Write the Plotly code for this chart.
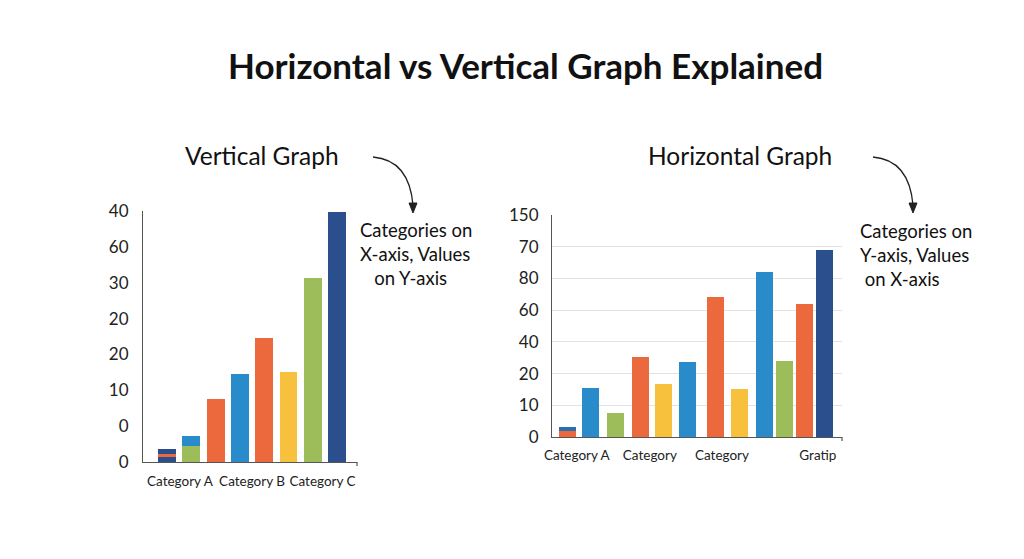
import plotly.graph_objects as go

# page is 1024x559; browser body keeps its default 8px margin
PAGE_W, PAGE_H = 1024, 559
PAD = 8
FW, FH = PAGE_W - 2 * PAD, PAGE_H - 2 * PAD

NAVY = "#2b4f8c"
BLUE = "#2a8bcb"
ORANGE = "#ec693d"
YELLOW = "#f7c13d"
GREEN = "#9dbd5b"

# --- Vertical graph (left) ---
v_pos = [0, 1, 2, 3, 4, 5, 6, 7]
v_base = [1.4, 4.5, 17.6, 24.5, 34.6, 25.1, 51.3, 69.7]
v_base_colors = [NAVY, GREEN, ORANGE, BLUE, ORANGE, YELLOW, GREEN, NAVY]
v_mid = [0.8, 2.8]
v_mid_colors = [ORANGE, BLUE]
v_top = [1.4]
v_top_colors = [NAVY]
v_ticktext = ["0", "0", "10", "20", "20", "30", "60", "40"]
v_cat_pos = [0.53, 3.5, 6.4]
v_cat_labels = ["Category A", "Category B", "Category C"]

# --- Horizontal graph (right) ---
h_pos = [0, 0.95, 2.05, 3.1, 4.1, 5.1, 6.3, 7.35, 8.4, 9.25, 10.1, 10.95]
h_base = [1.9, 15.5, 7.6, 25.2, 16.7, 23.7, 44.2, 15.1, 52.1, 24.0, 42.0, 59.0]
h_base_colors = [ORANGE, BLUE, GREEN, ORANGE, YELLOW, BLUE, ORANGE, YELLOW,
                 BLUE, GREEN, ORANGE, NAVY]
h_top = [1.3]
h_top_colors = ["#2a70aa"]
h_ticktext = ["0", "10", "20", "40", "60", "80", "70", "150"]
h_cat_pos = [0.38, 3.5, 6.58, 10.68]
h_cat_labels = ["Category A", "Category", "Category", "Gratip"]

tick_vals = [0, 10, 20, 30, 40, 50, 60, 70]


def dx(x):
    return (x - PAD) / FW


def dy(y):
    return 1 - (y - PAD) / FH


fig = go.Figure()

fig.add_trace(go.Bar(x=v_pos, y=v_base, marker_color=v_base_colors, width=0.74,
                     xaxis="x", yaxis="y"))
fig.add_trace(go.Bar(x=v_pos[:2], y=v_mid, marker_color=v_mid_colors, width=0.74,
                     xaxis="x", yaxis="y"))
fig.add_trace(go.Bar(x=v_pos[:1], y=v_top, marker_color=v_top_colors, width=0.74,
                     xaxis="x", yaxis="y"))

fig.add_trace(go.Bar(x=h_pos, y=h_base, marker_color=h_base_colors, width=0.73,
                     xaxis="x2", yaxis="y2"))
fig.add_trace(go.Bar(x=h_pos[:1], y=h_top, marker_color=h_top_colors, width=0.73,
                     xaxis="x2", yaxis="y2"))

fig.update_traces(marker_line_width=0, showlegend=False, hoverinfo="skip")

axis_font = dict(family="Lato", size=17, color="#222")
cat_font = dict(family="Lato", size=13.5, color="#222")

fig.update_layout(
    width=FW, height=FH,
    margin=dict(l=0, r=0, t=0, b=0),
    paper_bgcolor="white", plot_bgcolor="white",
    barmode="stack", bargap=0,
    font=dict(family="Lato", color="#222"),
    xaxis=dict(domain=[dx(143), dx(357)], range=[-0.99, 7.82],
               tickvals=v_cat_pos, ticktext=v_cat_labels, tickfont=cat_font,
               tickangle=0, automargin=False,
               showline=True, linecolor="#555", linewidth=1.2,
               showgrid=False, zeroline=False, ticks="", ticklabelstandoff=7),
    yaxis=dict(domain=[dy(462), dy(211)], range=[0, 70], automargin=False,
               tickvals=tick_vals, ticktext=v_ticktext, tickfont=axis_font,
               showline=True, linecolor="#555", linewidth=1.2,
               showgrid=False, zeroline=False, ticks="", ticklabelstandoff=10),
    xaxis2=dict(domain=[dx(552), dx(842)], range=[-0.68, 11.71], anchor="y2",
                tickvals=h_cat_pos, ticktext=h_cat_labels, tickfont=cat_font,
                tickangle=0, automargin=False,
                showline=True, linecolor="#555", linewidth=1.2,
                showgrid=False, zeroline=False, ticks="", ticklabelstandoff=6),
    yaxis2=dict(domain=[dy(437), dy(215)], range=[0, 70], anchor="x2",
                automargin=False,
                tickvals=tick_vals, ticktext=h_ticktext, tickfont=axis_font,
                showline=True, linecolor="#555", linewidth=1.2,
                showgrid=True, gridcolor="#e3e3e3", gridwidth=1,
                zeroline=False, ticks="", ticklabelstandoff=9),
)

# titles
fig.add_annotation(x=dx(525), y=dy(65), xref="paper", yref="paper", showarrow=False,
                   xanchor="center", yanchor="middle",
                   text="<b>Horizontal vs Vertical Graph Explained</b>",
                   font=dict(family="Lato", size=35, color="#111"))
for cx, label in [(262, "Vertical Graph"), (740, "Horizontal Graph")]:
    fig.add_annotation(x=dx(cx), y=dy(156), xref="paper", yref="paper",
                       showarrow=False, xanchor="center", yanchor="middle",
                       text=label, font=dict(family="Lato", size=24.5, color="#111"))

# side notes
notes = [
    (358, 254, "Categories on<br>X-axis, Values<br>&nbsp;&nbsp;&nbsp;on Y-axis"),
    (858, 255, "Categories on<br>Y-axis, Values<br>&nbsp;on X-axis"),
]
for nx, ny, txt in notes:
    fig.add_annotation(x=dx(nx), y=dy(ny), xref="paper", yref="paper",
                       showarrow=False, xanchor="left", yanchor="middle",
                       align="left", text=txt,
                       font=dict(family="Lato", size=18.5, color="#111"))

# curved arrows
for ax0 in [373, 873]:
    fig.add_shape(type="path", xref="paper", yref="paper",
                  path=(f"M {dx(ax0)},{dy(157)} Q {dx(ax0 + 36)},{dy(160)} "
                        f"{dx(ax0 + 40)},{dy(205)}"),
                  line=dict(color="#222", width=1.3))
    fig.add_shape(type="path", xref="paper", yref="paper",
                  path=(f"M {dx(ax0 + 36)},{dy(203)} L {dx(ax0 + 44)},{dy(203)} "
                        f"L {dx(ax0 + 40)},{dy(213)} Z"),
                  fillcolor="#222", line=dict(color="#222", width=1))

# little end ticks on the x axes
for ex, ey in [(357, 462), (842, 437)]:
    fig.add_shape(type="line", xref="paper", yref="paper",
                  x0=dx(ex), x1=dx(ex), y0=dy(ey), y1=dy(ey + 4),
                  line=dict(color="#555", width=1.2))

fig.write_html("out.html", config={"displayModeBar": False})
